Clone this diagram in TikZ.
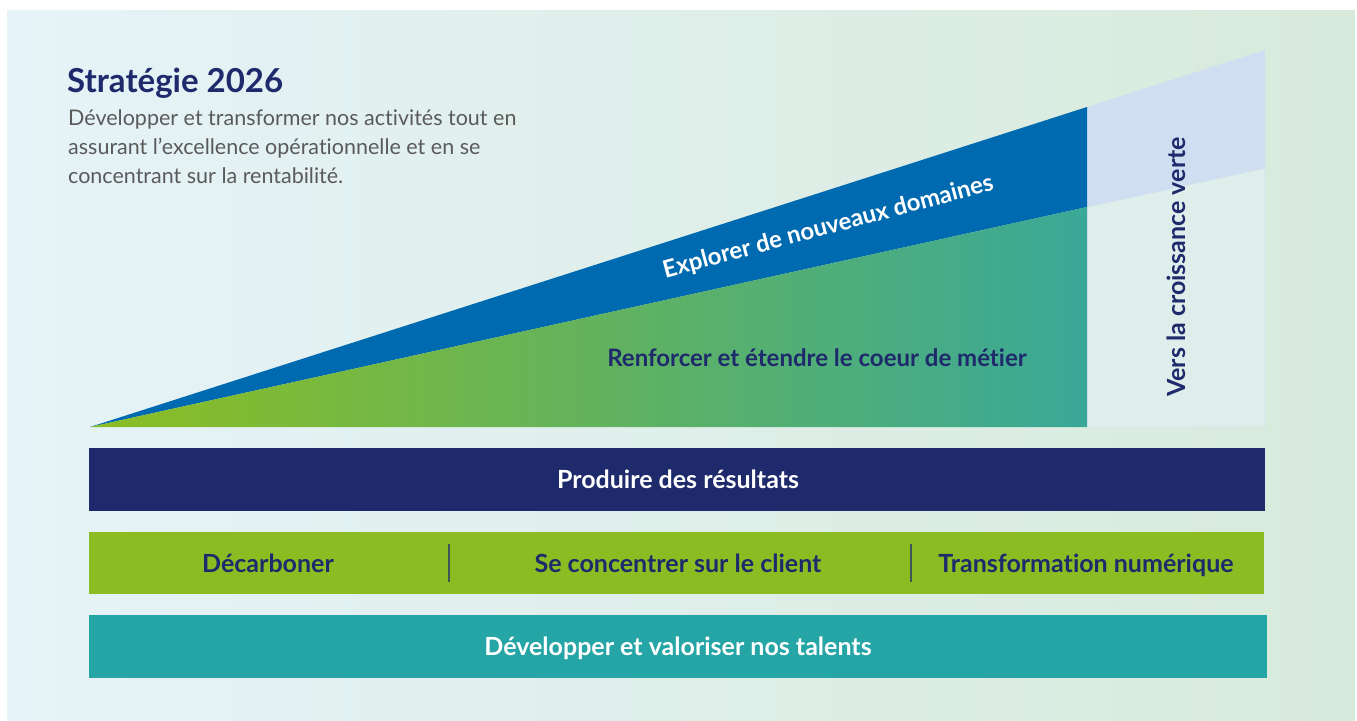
\documentclass[tikz,border=0pt]{standalone}
\usepackage{fontspec}
\setmainfont{Lato}[Ligatures=NoCommon]
\definecolor{navy}{HTML}{1E2A6B}
\definecolor{bluex}{HTML}{006AB0}
\definecolor{lightblue}{HTML}{D0DEF1}
\definecolor{paleteal}{HTML}{E0EEEB}
\definecolor{greenL}{HTML}{8CBE22}
\definecolor{greenR}{HTML}{3AA898}
\definecolor{limebar}{HTML}{8BBD23}
\definecolor{tealbar}{HTML}{25A5A5}
\definecolor{bgL}{HTML}{E6F3F8}
\definecolor{bgR}{HTML}{D8EADB}
\definecolor{grayt}{HTML}{5A5A5A}
\tikzset{
  bar/.style={draw=none, inner sep=0pt},
  bartext/.style={anchor=base, inner sep=0pt, font=\bfseries\fontsize{25}{29}\selectfont},
  midtext/.style={inner sep=0pt, font=\bfseries\fontsize{24}{28}\selectfont},
}
\begin{document}
\begin{tikzpicture}[x=1pt,y=-1pt]
\useasboundingbox (0,0) rectangle (1357,720);
\fill[white] (0,0) rectangle (1357,720);
\shade[left color=bgL, right color=bgR] (7,10) rectangle (1355,720);
% right column
\fill[paleteal, draw=lightblue!60!paleteal, line width=1pt] (1087,207) -- (1265,168) -- (1265,427) -- (1087,427) -- cycle;
\fill[lightblue] (1087,107) -- (1265,50) -- (1265,168) -- (1087,207) -- cycle;
% blue wedge
\fill[bluex] (90,427) -- (1087,107) -- (1087,207) -- cycle;
% green wedge
\shade[left color=greenL, right color=greenR] (90,427) -- (1087,207) -- (1087,427) -- cycle;
% texts
\node[anchor=base west, text=navy, font=\bfseries\fontsize{33}{38}\selectfont, inner sep=0pt] (title) at (67,92) {Stratégie 2026};
\node[anchor=base west, text=grayt, font=\fontsize{21.5}{29}\selectfont, inner sep=0pt, align=left] (desc) at (68,183) {Développer et transformer nos activités tout en\\assurant l’excellence opérationnelle et en se\\concentrant sur la rentabilité.};
\node[midtext, anchor=base, text=white, rotate=15] (explore) at (830,234) {Explorer de nouveaux domaines};
\node[midtext, anchor=base, text=navy] (coeur) at (817,366) {Renforcer et étendre le coeur de métier};
\node[midtext, text=navy, rotate=90, font=\bfseries\fontsize{25}{29}\selectfont] (vers) at (1176,267) {Vers la croissance verte};
% bars
\node[bar, fill=navy, minimum width=1176pt, minimum height=63pt] (res) at (677,479.5) {};
\node[bartext, text=white] (restxt) at (678,488) {Produire des résultats};
\node[bar, fill=limebar, minimum width=1175pt, minimum height=62pt] (pil) at (676.5,563) {};
\node[bartext, text=navy] (dec) at (268,572) {Décarboner};
\node[bartext, text=navy] (cli) at (678,572) {Se concentrer sur le client};
\node[bartext, text=navy] (num) at (1086,572) {Transformation numérique};
\coordinate (d1t) at (449,544); \coordinate (d1b) at (449,582);
\coordinate (d2t) at (911,544); \coordinate (d2b) at (911,582);
\draw[navy!70!limebar, line width=1.3pt] (d1t) -- (d1b);
\draw[navy!70!limebar, line width=1.3pt] (d2t) -- (d2b);
\node[bar, fill=tealbar, minimum width=1178pt, minimum height=63pt] (tal) at (678,646.5) {};
\node[bartext, text=white] (taltxt) at (678,655) {Développer et valoriser nos talents};
\end{tikzpicture}
\end{document}
